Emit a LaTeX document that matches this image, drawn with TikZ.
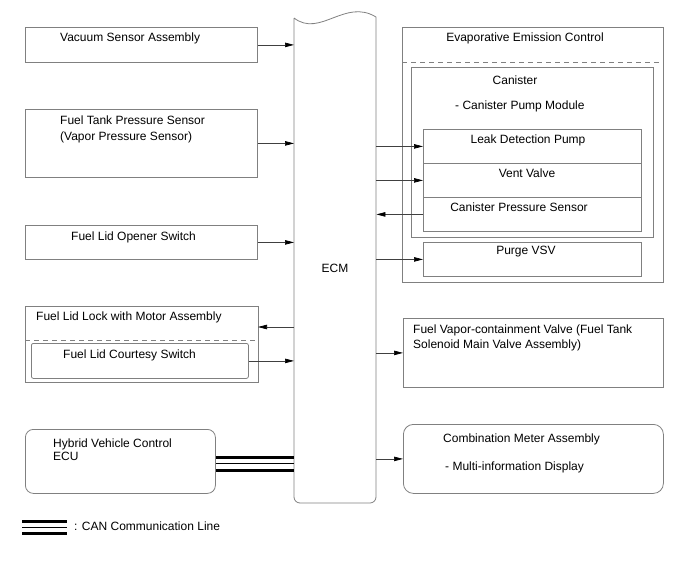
\documentclass[tikz,border=0pt]{standalone}
\usepackage{fontspec}
\setmainfont{Liberation Sans}
\usetikzlibrary{arrows.meta}

\begin{document}
\begin{tikzpicture}[x=1pt, y=-1pt,
    every node/.style={font=\fontsize{12}{14}\selectfont, inner sep=0pt},
    box/.style={draw=gray, line width=0.8pt, anchor=north west},
    sep/.style={draw=gray, line width=0.8pt, dash pattern=on 5pt off 4pt},
    sig/.style={draw=black!75, line width=0.7pt, -{Triangle[length=9pt,width=4.5pt,color=black]}},
    canthick/.style={line width=3pt},
    canthin/.style={line width=1pt}]
    \useasboundingbox (0,0) rectangle (688,560);

    % ECM
    \node[minimum width=82, minimum height=485, anchor=south west] (ecm) at (294,503) {};
    \draw[gray, line width=0.8pt] (294,18) .. controls (320,38) and (345,-2) .. (376,17)
        [rounded corners=6pt] -- (376,503) -- (294,503) -- (294,18);
    \node (ecmtxt) at (335,268) {ECM};

    % inputs and outputs on the left
    \node[box, minimum width=232, minimum height=35] (vac) at (25,27) {};
    \node[anchor=base west] (vactxt) at (60,41) {Vacuum Sensor Assembly};

    \node[box, minimum width=232, minimum height=68] (tank) at (25,109) {};
    \node[anchor=base west] (tanktxt) at (60,124) {Fuel Tank Pressure Sensor};
    \node[anchor=base west] (tanktxtb) at (60,140) {(Vapor Pressure Sensor)};

    \node[box, minimum width=232, minimum height=34] (opener) at (25,225) {};
    \node[anchor=base west] (openertxt) at (71,240) {Fuel Lid Opener Switch};

    \node[box, minimum width=233, minimum height=76] (lock) at (25,306) {};
    \draw[sep] (lock.west |- 0,340) -- (lock.east |- 0,340);
    \node[anchor=base west] (locktxt) at (36,320) {Fuel Lid Lock with Motor Assembly};
    \node[box, rounded corners=2pt, minimum width=217, minimum height=35] (courtesy) at (31,343) {};
    \node[anchor=base west] (courtesytxt) at (63,358) {Fuel Lid Courtesy Switch};
    \coordinate (lockin) at (258,327);

    \node[box, rounded corners=8pt, minimum width=190, minimum height=64] (hv) at (25,429) {};
    \node[anchor=base west] (hvtxt) at (53,447) {Hybrid Vehicle Control};
    \node[anchor=base west] (hvtxtb) at (53,460) {ECU};

    % right side
    \node[box, minimum width=261, minimum height=255] (evap) at (402,27) {};
    \draw[sep] (evap.west |- 0,62) -- (evap.east |- 0,62);
    \node[anchor=base] (evaptxt) at (525,41) {Evaporative Emission Control};

    \node[box, minimum width=242, minimum height=170] (canister) at (411,67) {};
    \node[anchor=base] (canistertxt) at (515,84) {Canister};
    \node[anchor=base west] (pumptxt) at (455,109) {- Canister Pump Module};

    \node[box, minimum width=218, minimum height=34] (ldp) at (423,129) {};
    \node[box, minimum width=218, minimum height=34] (vent) at (423,163) {};
    \node[box, minimum width=218, minimum height=34] (cps) at (423,197) {};
    \node[anchor=base] (ldptxt) at (528,143) {Leak Detection Pump};
    \node[anchor=base] (venttxt) at (527,177) {Vent Valve};
    \node[anchor=base] (cpstxt) at (519,211) {Canister Pressure Sensor};

    \node[box, minimum width=218, minimum height=34] (purge) at (423,242) {};
    \node[anchor=base] (purgetxt) at (526,254) {Purge VSV};

    \node[box, minimum width=260, minimum height=69] (vapor) at (403,318) {};
    \node[anchor=base west] (vaportxt) at (413,333) {Fuel Vapor-containment Valve (Fuel Tank};
    \node[anchor=base west] (vaportxtb) at (413,348) {Solenoid Main Valve Assembly)};

    \node[box, rounded corners=10pt, minimum width=260, minimum height=69] (meter) at (403,424) {};
    \node[anchor=base west] (metertxt) at (443,442) {Combination Meter Assembly};
    \node[anchor=base west] (metertxtb) at (445,470) {- Multi-information Display};

    % signals
    \draw[sig] (vac.east) -- (vac.east -| ecm.west);
    \draw[sig] (tank.east) -- (tank.east -| ecm.west);
    \draw[sig] (opener.east) -- (opener.east -| ecm.west);
    \draw[sig] (lockin -| ecm.west) -- (lockin);
    \draw[sig] (courtesy.east) -- (courtesy.east -| ecm.west);
    \draw[sig] (ldp.west -| ecm.east) -- (ldp.west);
    \draw[sig] (vent.west -| ecm.east) -- (vent.west);
    \draw[sig] (cps.west) -- (cps.west -| ecm.east);
    \draw[sig] (purge.west -| ecm.east) -- (purge.west);
    \draw[sig] (vapor.west -| ecm.east) -- (vapor.west);
    \draw[sig] (meter.west -| ecm.east) -- (meter.west);

    % CAN lines
    \draw[canthick] ([yshift=3.5pt]hv.east) -- ([yshift=3.5pt]hv.east -| ecm.west);
    \draw[canthin] ([yshift=-2pt]hv.east) -- ([yshift=-2pt]hv.east -| ecm.west);
    \draw[canthick] ([yshift=-9pt]hv.east) -- ([yshift=-9pt]hv.east -| ecm.west);

    % legend
    \coordinate (lega) at (22,527);
    \coordinate (legb) at (67,527);
    \draw[canthick] ([yshift=6pt]lega) -- ([yshift=6pt]legb);
    \draw[canthin] (lega) -- (legb);
    \draw[canthick] ([yshift=-6pt]lega) -- ([yshift=-6pt]legb);
    \node[anchor=base west] (legtxt) at (74,530) {: CAN Communication Line};
\end{tikzpicture}
\end{document}
